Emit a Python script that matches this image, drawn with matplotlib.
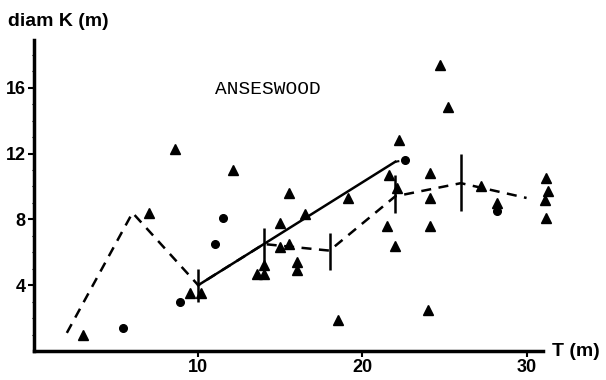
import matplotlib.pyplot as plt
import numpy as np

# triangles (measured trees)
tri_T = [3.0, 7.0, 8.6, 9.5, 10.2, 12.1, 13.6, 14.0, 14.0, 15.0, 15.0, 15.5,
         15.5, 16.0, 16.0, 16.5, 18.5, 19.1, 21.5, 21.6, 22.0, 22.1, 22.2,
         24.0, 24.1, 24.1, 24.1, 24.7, 25.2, 27.2, 28.2, 31.1, 31.2, 31.3, 31.2]
tri_D = [1.0, 8.4, 12.3, 3.5, 3.5, 11.0, 4.7, 4.7, 5.2, 7.8, 6.3, 9.6,
         6.5, 5.4, 4.9, 8.3, 1.9, 9.3, 7.6, 10.7, 6.4, 9.9, 12.8,
         2.5, 7.6, 9.3, 10.8, 17.4, 14.8, 10.05, 9.0, 9.15, 10.5, 9.75, 8.1]

# dots
dot_T = [5.4, 8.9, 11.0, 11.5, 22.6, 28.2]
dot_D = [1.4, 3.0, 6.5, 8.1, 11.6, 8.5]

# solid regression line
solid_T = [10, 22]
solid_D = [4.0, 11.5]

# dashed mean line
mean_T = [2, 6, 10, 14, 18, 22, 26, 30]
mean_D = [1.1, 8.4, 4.0, 6.5, 6.1, 9.4, 10.2, 9.3]

# vertical range bars
bar_T = [10, 14, 18, 22, 26]
bar_lo = [3.0, 5.3, 4.9, 8.4, 8.5]
bar_hi = [5.0, 7.5, 7.2, 10.7, 12.0]

fig = plt.figure(figsize=(6.06, 3.80), dpi=100)
ax = fig.add_axes([34 / 606, 29 / 380, 509 / 606, 311 / 380])

ax.plot(mean_T, mean_D, color="black", lw=1.8, ls=(0, (4, 3)))
ax.plot(solid_T, solid_D, color="black", lw=1.8)
ax.plot([22, 22.6], [11.5, 11.6], color="black", lw=1.5, ls=(0, (2, 2)))
ax.vlines(bar_T, bar_lo, bar_hi, color="black", lw=1.8)

ax.plot(tri_T, tri_D, ls="none", marker="^", ms=7, color="black", clip_on=False)
ax.plot(dot_T, dot_D, ls="none", marker="o", ms=5.5, color="black", clip_on=False)

ax.set_xlim(0, 31)
ax.set_ylim(0, 18.9)

for s in ["top", "right"]:
    ax.spines[s].set_visible(False)
for s in ["left", "bottom"]:
    ax.spines[s].set_linewidth(2.5)

ax.set_xticks([10, 20, 30])
ax.set_yticks([4, 8, 12, 16])
ax.set_yticks(np.arange(1, 19), minor=True)
ax.tick_params(axis="both", which="major", length=4, width=1.5, pad=2,
               labelsize=13)
ax.tick_params(axis="y", which="minor", length=1.5, width=0.8)
for lab in ax.get_xticklabels() + ax.get_yticklabels():
    lab.set_fontfamily("Liberation Sans")
    lab.set_fontweight("bold")

fig.text(8 / 606, 1 - 22 / 380, "diam K (m)", fontsize=14, fontweight="bold",
         family="Liberation Sans", va="center", ha="left")
fig.text(552 / 606, 1 - 352 / 380, "T (m)", fontsize=14, fontweight="bold",
         family="Liberation Sans", va="center", ha="left")
ax.text(11.0, 15.9, "ANSESWOOD", fontsize=14, family="Liberation Mono",
        va="center", ha="left")

fig.savefig("out.png", dpi=100)
